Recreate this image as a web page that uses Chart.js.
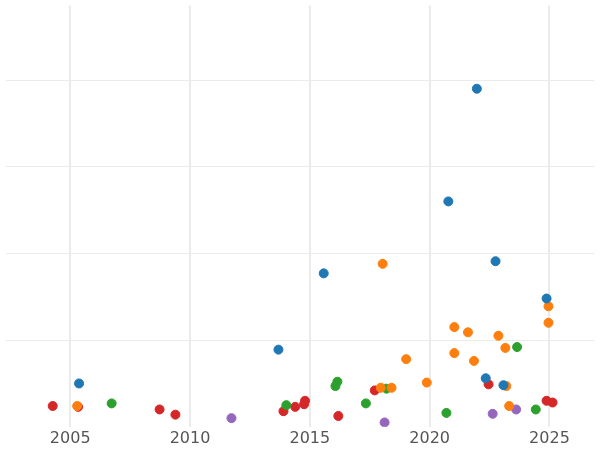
<!DOCTYPE html>
<html>
<head>
<meta charset="utf-8">
<script src="https://cdn.jsdelivr.net/npm/chart.js@4"></script>
<style>
  html, body { margin: 0; padding: 0; background: #fff; }
  #wrap { width: 600px; height: 450px; }
</style>
</head>
<body>
<div id="wrap"><canvas id="chart"></canvas></div>
<script>
// data: [year, value]
const blueSeries = [[2005.37,0.50],[2013.69,0.89],[2015.58,1.77],[2020.78,2.60],[2021.97,3.90],[2022.75,1.91],[2024.88,1.48],[2022.34,0.56],[2023.08,0.48]];
const orangeSeries = [[2005.29,0.24],[2018.04,1.88],[2019.02,0.78],[2017.96,0.45],[2018.41,0.45],[2019.88,0.51],[2021.03,1.15],[2021.03,0.85],[2021.6,1.09],[2021.85,0.76],[2022.87,1.05],[2023.16,0.91],[2023.2,0.47],[2023.32,0.24],[2024.96,1.39],[2024.96,1.20]];
const greenSeries = [[2006.73,0.27],[2014.02,0.25],[2016.07,0.47],[2016.15,0.52],[2017.34,0.27],[2018.2,0.44],[2020.7,0.16],[2023.65,0.92],[2024.43,0.20]];
const redSeries = [[2004.27,0.24],[2005.33,0.23],[2008.73,0.20],[2009.39,0.14],[2013.9,0.18],[2014.39,0.23],[2014.8,0.30],[2014.76,0.26],[2016.19,0.125],[2017.71,0.42],[2022.46,0.49],[2024.88,0.30],[2025.13,0.28]];
const purpleSeries = [[2011.73,0.10],[2018.12,0.05],[2022.63,0.15],[2023.61,0.20]];
const xTicks = [2005, 2010, 2015, 2020, 2025];

const toPoints = arr => arr.map(p => ({ x: p[0], y: p[1] }));
const mk = (data, color) => ({
  data: toPoints(data),
  backgroundColor: color,
  borderColor: color,
  pointRadius: 4.5,
  pointHoverRadius: 4.5
});

new Chart(document.getElementById('chart'), {
  type: 'scatter',
  data: {
    datasets: [
      mk(blueSeries, '#1f77b4'),
      mk(orangeSeries, '#ff7f0e'),
      mk(greenSeries, '#2ca02c'),
      mk(redSeries, '#d62728'),
      mk(purpleSeries, '#9467bd')
    ]
  },
  options: {
    responsive: true,
    maintainAspectRatio: false,
    animation: false,
    layout: { padding: { left: -6, right: -6, top: -6, bottom: 0 } },
    plugins: { legend: { display: false }, tooltip: { enabled: false } },
    scales: {
      x: {
        type: 'linear',
        min: 2002.3,
        max: 2026.88,
        afterBuildTicks: axis => { axis.ticks = xTicks.map(v => ({ value: v })); },
        ticks: {
          color: '#555',
          font: { family: 'DejaVu Sans', size: 16 },
          padding: 2,
          callback: v => String(v)
        },
        grid: { color: '#ebebeb', lineWidth: 2, drawTicks: false },
        border: { display: false }
      },
      y: {
        min: 0,
        max: 4.86,
        afterBuildTicks: axis => { axis.ticks = [1, 2, 3, 4].map(v => ({ value: v })); },
        ticks: { display: false },
        grid: { color: '#ebebeb', lineWidth: 1, drawTicks: false },
        border: { display: false }
      }
    }
  }
});
</script>
</body>
</html>
